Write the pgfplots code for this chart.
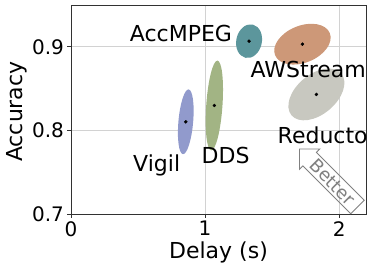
\documentclass[border=0pt]{standalone}
\usepackage{fontspec}
\setmainfont{DejaVu Sans}
\usepackage{pgfplots}
\pgfplotsset{compat=1.18}
\usetikzlibrary{shapes.geometric}
\definecolor{cvigil}{RGB}{145,154,204}
\definecolor{cdds}{RGB}{162,180,132}
\definecolor{cacc}{RGB}{92,150,156}
\definecolor{caws}{RGB}{205,152,120}
\definecolor{cred}{RGB}{200,200,192}
\definecolor{spine}{RGB}{50,50,50}
\definecolor{gridc}{RGB}{210,210,210}
\begin{document}
\begin{tikzpicture}
\useasboundingbox (-71pt,-57.7pt) rectangle (303pt,214.3pt);
\begin{axis}[
  at={(0pt,0pt)}, anchor=south west,
  width=295pt, height=209.3pt, scale only axis,
  xmin=0, xmax=2.2, ymin=0.7, ymax=0.95,
  xtick={0,1,2}, ytick={0.7,0.8,0.9},
  yticklabel style={/pgf/number format/.cd,fixed,fixed zerofill,precision=1},
  /pgf/number format/assume math mode=true,
  tick label style={font=\fontsize{20}{24}\selectfont},
  xlabel={Delay (s)}, ylabel={Accuracy},
  xlabel style={font=\fontsize{22}{26}\selectfont, anchor=base, at={([yshift=-44pt]axis description cs:0.5,0)}},
  ylabel style={font=\fontsize{22}{26}\selectfont, anchor=base, rotate=0, at={([xshift=-48pt,yshift=-2pt]axis description cs:0,0.5)}},
  grid=major, major grid style={gridc, line width=0.8pt},
  axis line style={spine, line width=0.8pt},
  tick style={spine, line width=0.8pt},
  tick align=outside, major tick length=3.5pt,
  xtick pos=bottom, ytick pos=left,
  clip=false,
]
% ellipses (regions around each system's mean)
\node[ellipse, fill=cvigil, inner sep=0pt, minimum width=65pt, minimum height=14.7pt, rotate=85] at (axis cs:0.856,0.8105) {};
\node[ellipse, fill=cdds, inner sep=0pt, minimum width=90pt, minimum height=16.2pt, rotate=86] at (axis cs:1.069,0.830) {};
\node[ellipse, fill=cacc, inner sep=0pt, minimum width=34pt, minimum height=25.6pt, rotate=78] at (axis cs:1.328,0.9068) {};
\node[ellipse, fill=caws, inner sep=0pt, minimum width=59pt, minimum height=37pt, rotate=22] at (axis cs:1.726,0.9032) {};
\node[ellipse, fill=cred, inner sep=0pt, minimum width=65pt, minimum height=40pt, rotate=40] at (axis cs:1.830,0.8432) {};
\addplot[only marks, mark=*, mark size=1.5pt, black] coordinates {
  (0.856,0.8105) (1.069,0.830) (1.328,0.9068) (1.726,0.9032) (1.830,0.8432)
};
\begin{scope}[every node/.style={font=\fontsize{22}{26}\selectfont, anchor=base, inner sep=0pt}]
\node at (axis cs:0.82,0.906) {AccMPEG};
\node at (axis cs:1.769,0.863) {AWStream};
\node at (axis cs:1.877,0.7845) {Reducto};
\node at (axis cs:0.639,0.7514) {Vigil};
\node at (axis cs:1.153,0.7606) {DDS};
\end{scope}
% "Better" arrow, tip at the upper left
\begin{scope}[shift={(axis cs:1.704,0.778)}, rotate=-45, x=1pt, y=1pt]
\draw[gray, line width=0.9pt, line join=miter]
  (0,0) -- (14.4,14.4) -- (14.4,9.5) -- (82,9.5) -- (82,-9.5) -- (14.4,-9.5) -- (14.4,-14.4) -- cycle;
\node[text=gray, rotate=-45, font=\fontsize{18}{22}\selectfont, inner sep=0pt] at (47,0) {Better};
\end{scope}
\end{axis}
\end{tikzpicture}
\end{document}
